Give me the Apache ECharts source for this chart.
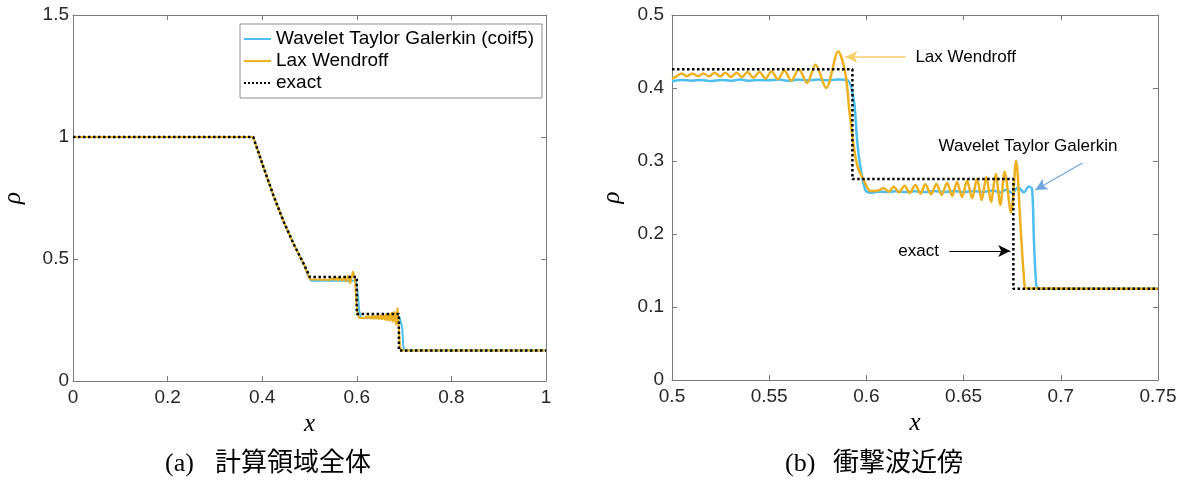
<!DOCTYPE html>
<html><head><meta charset="utf-8">
<script src="https://cdn.jsdelivr.net/npm/echarts@6/dist/echarts.min.js"></script>
<style>html,body{margin:0;padding:0;background:#fff}#c{width:1189px;height:483px}</style>
</head><body><div id="c"></div>
<script>
// ---------- data ----------
const names = ['Wavelet Taylor Galerkin (coif5)', 'Lax Wendroff', 'exact'];
const xTicksLeft = [0, 1, 0.2];
const yTicksLeft = [0, 1.5, 0.5];
const xTicksRight = [0.5, 0.75, 0.05];
const yTicksRight = [0, 0.5, 0.1];

// (a) whole domain
const leftExact = [[0,1],[0.381,1],[0.4026,0.877],[0.4242,0.758],[0.4458,0.651],[0.4674,0.558],[0.489,0.475],[0.501,0.426],[0.600,0.426],[0.600,0.275],[0.689,0.275],[0.689,0.125],[1,0.125]];
const leftWTG = [[0,1],[0.381,1],[0.4026,0.877],[0.4242,0.758],[0.4458,0.651],[0.4674,0.558],[0.489,0.475],[0.497,0.43],[0.503,0.411],[0.55,0.411],[0.598,0.411],[0.602,0.36],[0.605,0.29],[0.608,0.26],[0.615,0.258],[0.65,0.258],[0.68,0.259],[0.690,0.262],[0.694,0.265],[0.696,0.22],[0.698,0.15],[0.700,0.125],[1,0.125]];
const leftLW = [[0,1],[0.381,1],[0.4026,0.877],[0.4242,0.758],[0.4458,0.651],[0.4674,0.558],[0.489,0.475],[0.499,0.425],
 [0.501,0.416],[0.504,0.420],[0.507,0.416],[0.510,0.421],[0.513,0.416],[0.516,0.421],[0.519,0.416],[0.522,0.421],[0.525,0.415],[0.528,0.421],[0.531,0.415],[0.534,0.422],[0.537,0.415],[0.540,0.422],[0.543,0.414],[0.546,0.423],[0.549,0.414],[0.552,0.423],[0.555,0.413],[0.558,0.424],[0.561,0.412],[0.565,0.424],[0.569,0.410],[0.573,0.426],[0.577,0.407],[0.581,0.432],[0.586,0.400],[0.592,0.450],[0.596,0.42],[0.599,0.32],[0.602,0.275],[0.605,0.259],
 [0.608,0.263],[0.611,0.258],[0.614,0.265],[0.617,0.257],[0.620,0.266],[0.623,0.256],[0.626,0.267],[0.629,0.255],[0.632,0.268],[0.635,0.254],[0.638,0.269],[0.641,0.253],[0.644,0.270],[0.647,0.252],[0.650,0.271],[0.653,0.251],[0.656,0.273],[0.659,0.249],[0.662,0.276],[0.665,0.247],[0.668,0.278],[0.671,0.244],[0.674,0.282],[0.677,0.240],[0.680,0.285],[0.683,0.229],[0.686,0.300],[0.689,0.215],[0.691,0.146],[0.693,0.125],[1,0.125]];

// (b) close-up near the shock
const rightExact = [[0.5,0.4256],[0.5928,0.4256],[0.5928,0.2752],[0.6756,0.2752],[0.6756,0.125],[0.75,0.125]];
const rightWTG = [[0.5,0.409],[0.505,0.411],[0.51,0.410],[0.515,0.411],[0.52,0.4095],[0.525,0.411],[0.53,0.410],[0.535,0.4115],[0.54,0.410],[0.545,0.411],[0.55,0.4105],[0.555,0.4115],[0.56,0.410],[0.565,0.4115],[0.57,0.4105],[0.575,0.4115],[0.58,0.4105],[0.585,0.4115],[0.5901,0.411],[0.5935,0.384],[0.5952,0.329],[0.5969,0.292],[0.5995,0.260],[0.6021,0.2566],[0.606,0.258],[0.61,0.2575],[0.615,0.2585],[0.62,0.2575],[0.625,0.2585],[0.63,0.2575],[0.635,0.259],[0.64,0.2575],[0.645,0.259],[0.65,0.2575],[0.655,0.259],[0.66,0.2575],[0.665,0.2595],[0.669,0.257],[0.672,0.261],[0.675,0.256],[0.678,0.264],[0.681,0.257],[0.6835,0.265],[0.6852,0.262],[0.6862,0.19],[0.6875,0.128],[0.689,0.125],[0.75,0.125]];
const rightLW = [[0.5,0.413],[0.5023,0.416],[0.5049,0.420],[0.5077,0.416],[0.5105,0.420],[0.5134,0.416],[0.5162,0.420],[0.5190,0.416],[0.5219,0.421],[0.5247,0.416],[0.5275,0.421],[0.5303,0.415],[0.5332,0.421],[0.5360,0.415],[0.5388,0.422],[0.5419,0.414],[0.5450,0.422],[0.5481,0.413],[0.5512,0.423],[0.5545,0.412],[0.5578,0.424],[0.5614,0.410],[0.5652,0.426],[0.5695,0.407],[0.5738,0.432],[0.5793,0.400],[0.5855,0.450],[0.5892,0.420],[0.5912,0.37],[0.5935,0.32],[0.5955,0.292],[0.5986,0.274],[0.6021,0.259],[0.6050,0.259],
 [0.6089,0.2626],[0.6115,0.2580],[0.6140,0.2648],[0.6168,0.2571],[0.6196,0.2662],[0.6223,0.2562],[0.6252,0.2671],[0.6278,0.2553],[0.6303,0.2680],[0.6333,0.2543],[0.6360,0.2689],[0.6387,0.2534],[0.6415,0.2703],[0.6441,0.2521],[0.6466,0.2712],[0.6492,0.2507],[0.6518,0.2730],[0.6544,0.2489],[0.6569,0.2758],[0.6593,0.2466],[0.6617,0.2785],[0.6641,0.2438],[0.6665,0.2822],[0.6689,0.2397],[0.6711,0.2854],[0.6744,0.2292],[0.6770,0.3005],[0.6792,0.2146],[0.6809,0.146],[0.6823,0.1256],[0.75,0.125]];

// annotations in (b): [text, textX, textY, arrowFrom, arrowTo]
const annotLW = ['Lax Wendroff', 0.6252, 0.4425, [0.6201,0.4425], [0.5892,0.4425]];
const annotWTG = ['Wavelet Taylor Galerkin', 0.6371, 0.3205, [0.7111,0.2973], [0.6869,0.2603]];
const annotExact = ['exact', 0.6164, 0.1767, [0.6427,0.1767], [0.6740,0.1767]];
const captions = [['(a)', '計算領域全体'], ['(b)', '衝撃波近傍']];

// ---------- style ----------
const BLUE = '#4DBEEE', ORANGE = '#EDB120', AX = '#7a7a7a', TXT = '#262626';
const chart = echarts.init(document.getElementById('c'), null, {renderer:'canvas'});

function xAx(grid, t, pos, show) {
  return {type:'value', gridIndex:grid, position:pos, min:t[0], max:t[1], interval:t[2],
    axisLine:{show:true, onZero:false, lineStyle:{color:AX, width:1}},
    axisTick:{show:true, inside:true, length:5, lineStyle:{color:AX}},
    axisLabel:{show:show, margin:7, color:TXT, fontSize:19, fontFamily:'Liberation Sans'},
    splitLine:{show:false},
    name: show ? 'x' : '', nameLocation:'middle', nameGap:30,
    nameTextStyle:{fontFamily:'Liberation Serif', fontStyle:'italic', fontSize:25, color:'#000'}};
}
function yAx(grid, t, pos, show, margin) {
  return {type:'value', gridIndex:grid, position:pos, min:t[0], max:t[1], interval:t[2],
    axisLine:{show:true, onZero:false, lineStyle:{color:AX, width:1}},
    axisTick:{show:true, inside:true, length:5, lineStyle:{color:AX}},
    axisLabel:{show:show, margin:margin, color:TXT, fontSize:19, fontFamily:'Liberation Sans'},
    splitLine:{show:false},
    name: show ? 'ρ' : '', nameLocation:'middle', nameGap:47, nameRotate:90,
    nameTextStyle:{fontFamily:'Liberation Serif', fontStyle:'italic', fontSize:25, color:'#000'}};
}
function ser(name, data, ai, color, width, type, extra) {
  return Object.assign({name:name, type:'line', xAxisIndex:ai, yAxisIndex:ai, data:data,
    symbol:'none', showSymbol:false, clip:true, animation:false,
    lineStyle:{color:color, width:width, type:type}, itemStyle:{color:color}}, extra || {});
}

const option = {
  animation:false,
  backgroundColor:'#fff',
  grid:[{left:66, top:15, width:480, height:366}, {left:672, top:15, width:486, height:365}],
  xAxis:[xAx(0,xTicksLeft,'bottom',true), xAx(0,xTicksLeft,'top',false),
         xAx(1,xTicksRight,'bottom',true), xAx(1,xTicksRight,'top',false)],
  yAxis:[yAx(0,yTicksLeft,'left',true,4), yAx(0,yTicksLeft,'right',false,4),
         yAx(1,yTicksRight,'left',true,8), yAx(1,yTicksRight,'right',false,8)],
  legend:{show:true, data:names, orient:'vertical', left:240, top:24,
    padding:[5,8,5,3], itemGap:2, itemWidth:27, itemHeight:14,
    itemStyle:{opacity:0, borderWidth:0},
    borderColor:'#8c8c8c', borderWidth:1, backgroundColor:'#fff',
    textStyle:{fontSize:19, lineHeight:20, fontFamily:'Liberation Sans', color:'#000'}},
  series:[
    ser(names[0], leftWTG, 0, BLUE, 2, 'solid'),
    ser(names[1], leftLW, 0, ORANGE, 2, 'solid'),
    ser(names[2], leftExact, 0, '#000', 2.5, 'dotted'),
    ser(names[0], rightWTG, 2, BLUE, 2.5, 'solid', {smooth:0.3}),
    ser(names[1], rightLW, 2, ORANGE, 2.5, 'solid', {smooth:0.3}),
    ser(names[2], rightExact, 2, '#000', 2.5, 'dotted', {
      markLine:{silent:true, animation:false, symbol:['none','arrow'], symbolSize:[9,12], label:{show:false},
        data:[
          [{coord:annotLW[3], lineStyle:{color:'#f7cf6b', width:1.5, type:'solid'}}, {coord:annotLW[4]}],
          [{coord:annotWTG[3], lineStyle:{color:'#6ea6dd', width:1.2, type:'solid'}}, {coord:annotWTG[4]}],
          [{coord:annotExact[3], lineStyle:{color:'#000', width:1.2, type:'solid'}}, {coord:annotExact[4]}]
        ]}
    })
  ]
};
chart.setOption(option);

const gfx = [];
[annotLW, annotWTG, annotExact].forEach(a => {
  const p = chart.convertToPixel({xAxisIndex:2, yAxisIndex:2}, [a[1], a[2]]);
  gfx.push({type:'text', left:p[0], top:p[1]-10, style:{text:a[0], fill:'#000', fontSize:17, fontFamily:'Liberation Sans', lineHeight:20}});
});
const capFont = {fontSize:26, fontFamily:'"Liberation Serif", "Noto Sans CJK JP", serif', fill:'#000'};
gfx.push({type:'text', left:165, top:451, style:Object.assign({text:captions[0][0]}, capFont)});
gfx.push({type:'text', left:215, top:451, style:Object.assign({text:captions[0][1]}, capFont)});
gfx.push({type:'text', left:785, top:451, style:Object.assign({text:captions[1][0]}, capFont)});
gfx.push({type:'text', left:833, top:451, style:Object.assign({text:captions[1][1]}, capFont)});
chart.setOption({graphic:gfx});
</script></body></html>
